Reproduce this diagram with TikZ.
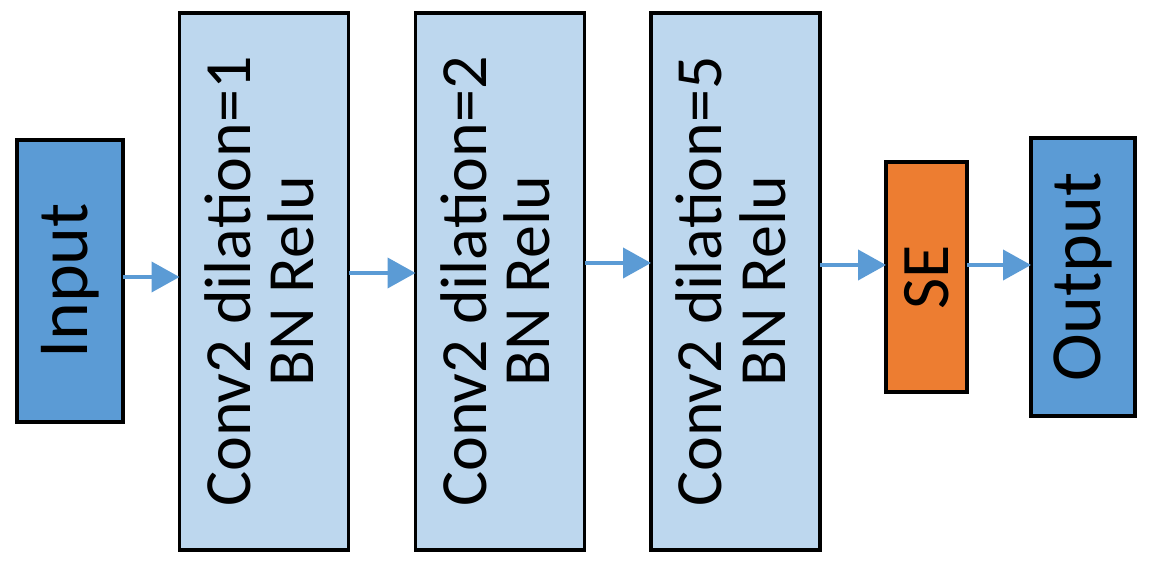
\documentclass[tikz,border=0pt]{standalone}
\usepackage{fontspec}
\setmainfont{Carlito}
\usepackage{graphicx}
\usetikzlibrary{arrows.meta}

\begin{document}
\begin{tikzpicture}[x=0.5pt,y=0.5pt,
  box/.style={draw=black,line width=1.7pt,inner sep=0pt,outer sep=0pt},
  ioBox/.style={box,fill=ioColor,minimum width=53pt,minimum height=141pt,font=\fontsize{36}{40}\selectfont},
  convBox/.style={box,fill=convColor,minimum width=84.5pt,minimum height=268.5pt,font=\fontsize{33}{30}\selectfont},
  seBox/.style={box,fill=seColor,minimum width=40.5pt,minimum height=115pt,font=\fontsize{34}{38}\selectfont},
  flow/.style={draw=flowColor,line width=2pt,-{Triangle[length=14pt,width=15pt]}}]
\definecolor{fillColor}{RGB}{255,255,255}
\definecolor{ioColor}{RGB}{91,155,213}
\definecolor{convColor}{RGB}{189,215,238}
\definecolor{seColor}{RGB}{237,125,49}
\definecolor{flowColor}{RGB}{91,155,213}
\path[use as bounding box,fill=fillColor] (0,0) rectangle (1150,566);

\node[ioBox] (in) at (  70.0,285.0) {\rotatebox{90}{Input}};

\node[convBox] (c1) at ( 264.0,284.5) {\rotatebox{90}{\begin{tabular}{@{}c@{}}\rule{0pt}{27pt}Conv2 dilation=1\\BN Relu\end{tabular}}};

\node[convBox] (c2) at ( 500.0,284.5) {\rotatebox{90}{\begin{tabular}{@{}c@{}}\rule{0pt}{27pt}Conv2 dilation=2\\BN Relu\end{tabular}}};

\node[convBox] (c3) at ( 735.5,284.5) {\rotatebox{90}{\begin{tabular}{@{}c@{}}\rule{0pt}{27pt}Conv2 dilation=5\\BN Relu\end{tabular}}};

\node[seBox] (se) at ( 926.5,289.0) {\rotatebox{90}{SE}};

\node[ioBox,minimum width=52pt,minimum height=139pt] (out) at (1083.0,289.0) {\rotatebox{90}{Output}};

\draw[flow] ([yshift=2pt]in.east) -- ([yshift=2pt]in.east -| c1.west);
\draw[flow] ([yshift=4.25pt]c1.east) -- ([yshift=4.25pt]c1.east -| c2.west);
\draw[flow] ([yshift=9.25pt]c2.east) -- ([yshift=9.25pt]c2.east -| c3.west);
\draw[flow] ([yshift=8.25pt]c3.east) -- ([yshift=8.25pt]c3.east -| se.west);
\draw[flow] ([yshift=6pt]se.east) -- ([yshift=6pt]se.east -| out.west);
\end{tikzpicture}
\end{document}
